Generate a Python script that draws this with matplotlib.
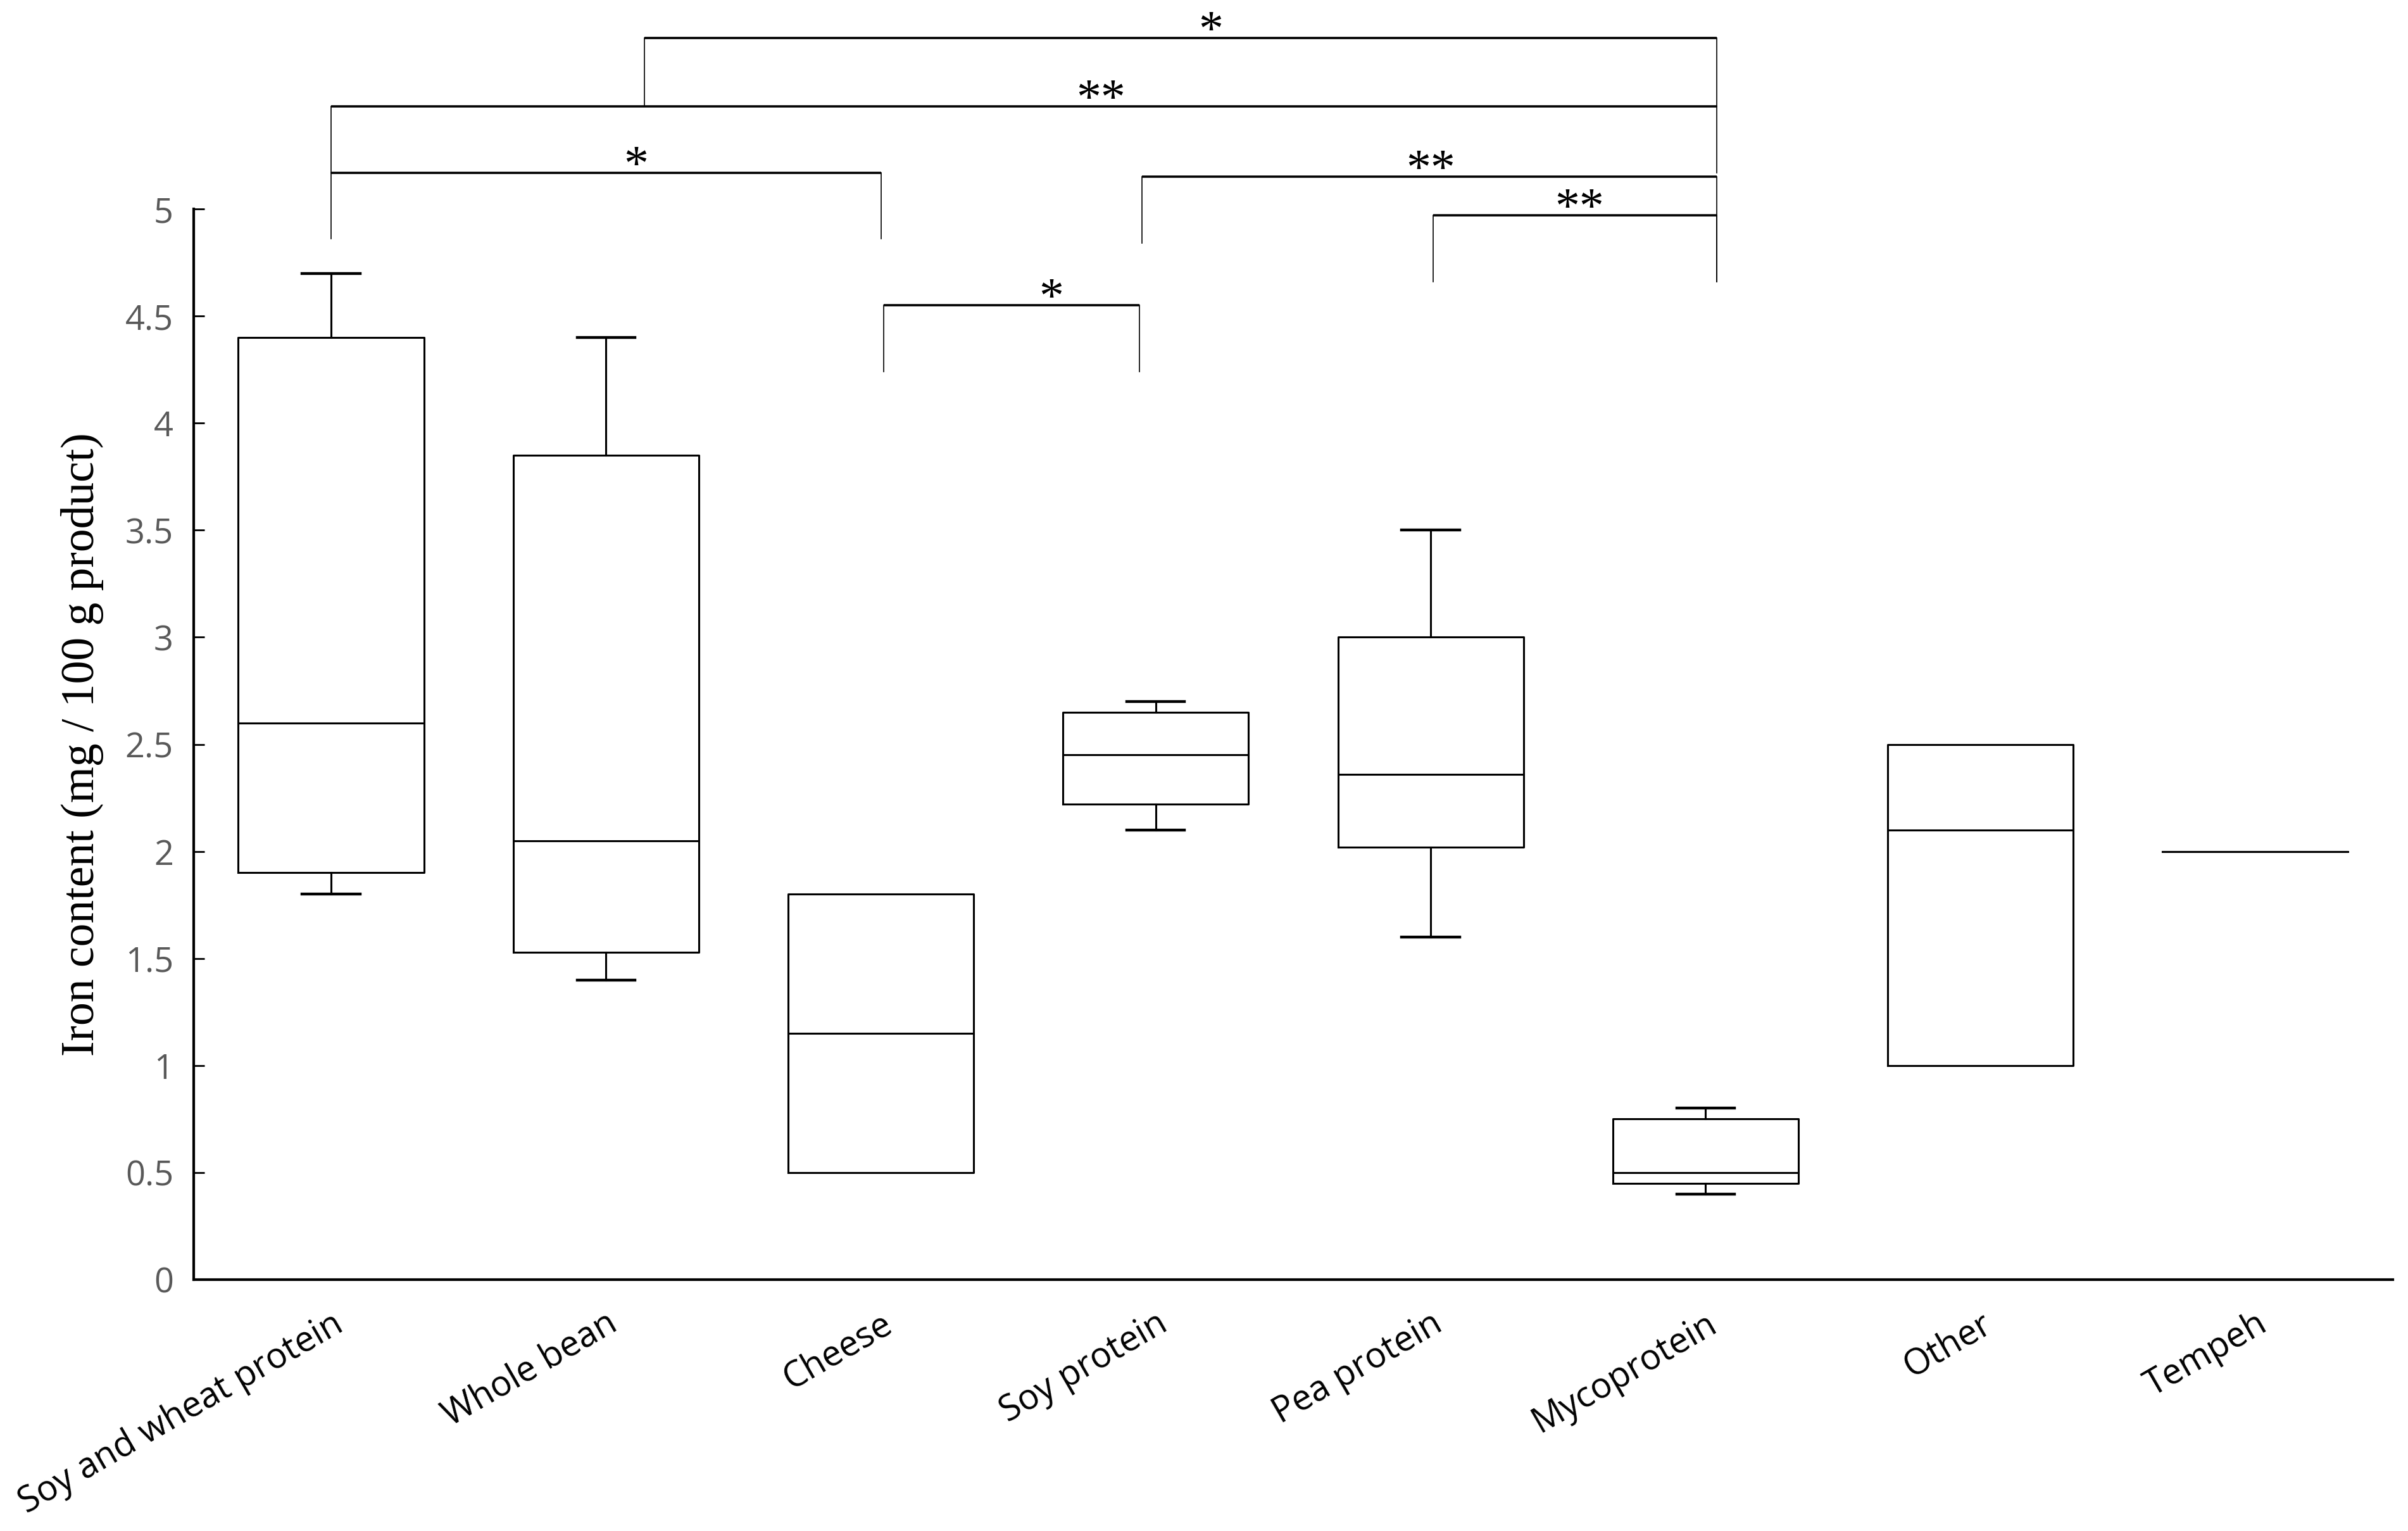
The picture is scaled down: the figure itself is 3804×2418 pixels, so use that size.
import numpy as np
import matplotlib
matplotlib.use("Agg")
import matplotlib.pyplot as plt

# box statistics (mg / 100 g product)
categories = ["Soy and wheat protein", "Whole bean", "Cheese", "Soy protein",
              "Pea protein", "Mycoprotein", "Other", "Tempeh"]
whislo = [1.80, 1.40, 0.50, 2.10, 1.60, 0.40, 1.00, 2.00]
q1 = [1.90, 1.53, 0.50, 2.22, 2.02, 0.45, 1.00, 2.00]
med = [2.60, 2.05, 1.15, 2.45, 2.36, 0.50, 2.10, 2.00]
q3 = [4.40, 3.85, 1.80, 2.65, 3.00, 0.75, 2.50, 2.00]
whishi = [4.70, 4.40, 1.80, 2.70, 3.50, 0.80, 2.50, 2.00]
yticks = [0, 0.5, 1, 1.5, 2, 2.5, 3, 3.5, 4, 4.5, 5]

# significance brackets: (left x, right x, bar y, left leg end, right leg end, star x, label)
brackets = [
    (1.14, 5.04, 5.80, 5.48, 5.48, 3.20, "*"),
    (0.00, 5.04, 5.48, 5.17, 5.17, 2.80, "**"),
    (0.00, 2.00, 5.17, 4.86, 4.86, 1.11, "*"),
    (2.95, 5.04, 5.15, 4.84, 4.66, 4.00, "**"),
    (4.01, 5.04, 4.97, 4.66, 4.66, 4.54, "**"),
    (2.01, 2.94, 4.55, 4.24, 4.24, 2.62, "*"),
]

fig = plt.figure(figsize=(38.04, 24.18), dpi=100)
ax = fig.add_axes([0.0804, 0.1642, 0.9133, 0.6993])

stats = []
for i in range(len(categories)):
    stats.append(dict(whislo=whislo[i], q1=q1[i], med=med[i], q3=q3[i],
                      whishi=whishi[i], fliers=[], label=categories[i]))

lw = 2.2
bp = ax.bxp(stats, positions=np.arange(len(categories)), widths=0.675,
            showfliers=False, capwidths=0.21,
            boxprops=dict(color="black", linewidth=lw),
            whiskerprops=dict(color="black", linewidth=lw),
            capprops=dict(color="black", linewidth=lw + 1),
            medianprops=dict(color="black", linewidth=lw))

# no whiskers when they coincide with the box
for i in range(len(categories)):
    if whislo[i] == q1[i]:
        bp["caps"][2 * i].set_visible(False)
    if whishi[i] == q3[i]:
        bp["caps"][2 * i + 1].set_visible(False)

ax.set_xlim(-0.5, 7.5)
ax.set_ylim(0, 5)
ax.set_yticks(yticks)
ax.set_yticklabels(["0", "0.5", "1", "1.5", "2", "2.5", "3", "3.5", "4", "4.5", "5"],
                   fontsize=39, color="#595959", family="Open Sans")
ax.tick_params(axis="y", direction="in", length=12, width=2, pad=23)
ax.tick_params(axis="x", length=0, pad=30)
ax.set_xticklabels(categories, rotation=30, ha="right", rotation_mode="anchor",
                   fontsize=40, family="Open Sans", color="black")
for s in ["top", "right"]:
    ax.spines[s].set_visible(False)
for s in ["left", "bottom"]:
    ax.spines[s].set_linewidth(3)
    ax.spines[s].set_color("black")

ax.set_ylabel("Iron content (mg / 100 g product)", family="Liberation Serif",
              fontsize=53, labelpad=24)

for x1, x2, yb, yl, yr, xs, lab in brackets:
    ax.plot([x1, x1], [yl, yb], color="black", lw=1.2, clip_on=False)
    ax.plot([x2, x2], [yr, yb], color="black", lw=1.2, clip_on=False)
    ax.plot([x1, x2], [yb, yb], color="black", lw=2.6, clip_on=False,
            solid_capstyle="butt")
    ax.text(xs, yb - 0.03, lab, ha="center", va="baseline", fontsize=56,
            family="Liberation Serif", clip_on=False)

fig.savefig("out.png", dpi=100)
